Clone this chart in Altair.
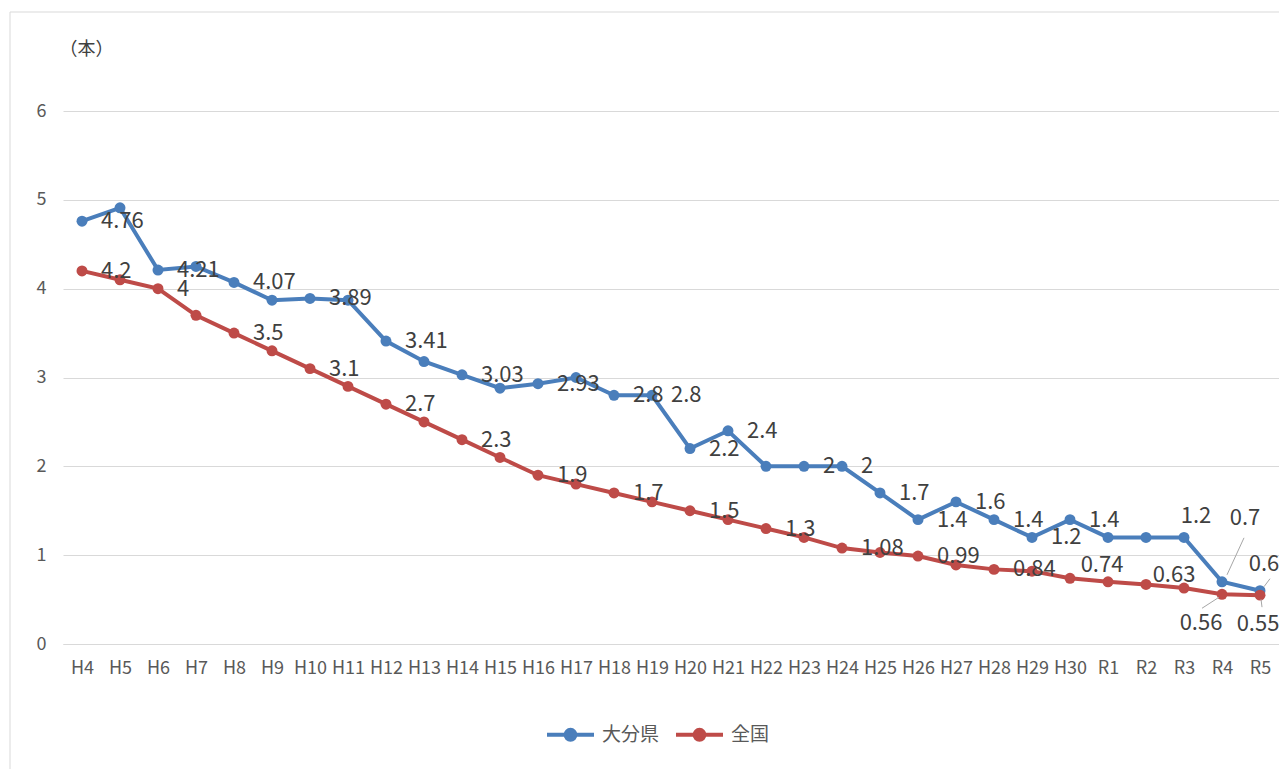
import altair as alt
import pandas as pd

categories = ["H4", "H5", "H6", "H7", "H8", "H9", "H10", "H11", "H12", "H13", "H14",
              "H15", "H16", "H17", "H18", "H19", "H20", "H21", "H22", "H23", "H24",
              "H25", "H26", "H27", "H28", "H29", "H30", "R1", "R2", "R3", "R4", "R5"]

series_names = ["大分県", "全国"]

oita = [4.76, 4.91, 4.21, 4.25, 4.07, 3.87, 3.89, 3.87, 3.41, 3.18, 3.03, 2.88, 2.93,
        3.0, 2.8, 2.8, 2.2, 2.4, 2.0, 2.0, 2.0, 1.7, 1.4, 1.6, 1.4, 1.2, 1.4,
        1.2, 1.2, 1.2, 0.7, 0.6]
zenkoku = [4.2, 4.1, 4.0, 3.7, 3.5, 3.3, 3.1, 2.9, 2.7, 2.5, 2.3, 2.1, 1.9, 1.8, 1.7,
           1.6, 1.5, 1.4, 1.3, 1.2, 1.08, 1.03, 0.99, 0.89, 0.84, 0.82, 0.74,
           0.70, 0.67, 0.63, 0.56, 0.55]

oita_labels = ["4.76", "", "4.21", "", "4.07", "", "3.89", "", "3.41", "", "3.03", "",
               "2.93", "", "2.8", "2.8", "2.2", "2.4", "", "2", "2", "1.7", "1.4", "1.6",
               "1.4", "1.2", "1.4", "", "", "1.2", "0.7", "0.6"]
zenkoku_labels = ["4.2", "", "4", "", "3.5", "", "3.1", "", "2.7", "", "2.3", "", "1.9",
                  "", "1.7", "", "1.5", "", "1.3", "", "1.08", "", "0.99", "", "0.84", "",
                  "0.74", "", "", "0.63", "0.56", "0.55"]

colors = ["#4a7ebb", "#be4b48"]
FONT = "Noto Sans CJK JP"

rows = []
for name, vals, labs in [(series_names[0], oita, oita_labels),
                         (series_names[1], zenkoku, zenkoku_labels)]:
    for i, (c, v, l) in enumerate(zip(categories, vals, labs)):
        rows.append({"cat": c, "series": name, "value": v, "label": l,
                     "key": f"{name}|{c}", "order": i})
df = pd.DataFrame(rows)

# label placement tweaks (style, kept outside the data arrays)
special = {
    "大分県|R3": dict(dx=12, dy=-21),
    "大分県|R4": dict(dx=23, dy=-64),
    "大分県|R5": dict(dx=4, dy=-27),
    "全国|H30": dict(dx=32, dy=-13),
    "全国|R3": dict(dx=-10, dy=-13),
    "全国|R4": dict(dx=-21, dy=29),
    "全国|R5": dict(dx=-2, dy=29),
}
leaders = {
    "大分県|R4": dict(xOffset=5, yOffset=-7, x2Offset=22, y2Offset=-44),
    "大分県|R5": dict(xOffset=4, yOffset=-4, x2Offset=10, y2Offset=-12),
    "全国|R4": dict(xOffset=-3, yOffset=3, x2Offset=-20, y2Offset=14),
    "全国|R5": dict(xOffset=1, yOffset=4, x2Offset=2, y2Offset=12),
}

x_enc = alt.X("cat:N", sort=categories,
              scale=alt.Scale(type="point", padding=0.5),
              axis=alt.Axis(title=None, labelAngle=0, grid=False, ticks=False,
                            domain=True, domainColor="#d9d9d9", domainWidth=1,
                            labelFont=FONT, labelFontSize=18, labelColor="#595959",
                            labelPadding=15))
y_enc = alt.Y("value:Q", scale=alt.Scale(domain=[0, 6], nice=False),
              axis=alt.Axis(title="（本）", titleAngle=0, titleAlign="left",
                            titleBaseline="middle", titleX=-4, titleY=-62,
                            titleFont=FONT, titleFontSize=18, titleFontWeight="normal",
                            titleColor="#404040",
                            values=[0, 1, 2, 3, 4, 5, 6], format="d",
                            grid=True, gridColor="#d9d9d9", gridWidth=1,
                            domain=False, ticks=False,
                            labelFont=FONT, labelFontSize=18, labelColor="#595959",
                            labelPadding=17))

legend = alt.Legend(
    title=None, orient="none", legendX=482, legendY=598, direction="horizontal",
    symbolType="M-1,0H1M-0.21,0A0.21,0.21 0 1 0 0.21,0A0.21,0.21 0 1 0 -0.21,0Z",
    symbolSize=2209, symbolStrokeWidth=4, symbolOpacity=1,
    labelFont=FONT, labelFontSize=19, labelColor="#595959",
    labelOffset=6, columnPadding=8, padding=0,
)
color_enc = alt.Color("series:N", scale=alt.Scale(domain=series_names, range=colors),
                      sort=series_names, legend=legend)

base = alt.Chart(df)

border = alt.Chart(alt.Data(values=[{}])).mark_rect(
    filled=False, stroke="#d9d9d9", strokeWidth=1
).encode(x=alt.value(-53), x2=alt.value(1300), y=alt.value(-99), y2=alt.value(800))

lines = base.mark_line(strokeWidth=4).encode(
    x=x_enc, y=y_enc, color=color_enc, order="order:Q")
points = base.mark_point(filled=True, size=120, opacity=1).encode(
    x=x_enc, y=y_enc, color=color_enc)

normal_df = df[(df["label"] != "") & (~df["key"].isin(list(special.keys())))]
labels_layer = alt.Chart(normal_df).mark_text(
    align="left", baseline="middle", dx=19, font=FONT, fontSize=22, color="#404040"
).encode(x=x_enc, y=y_enc, text="label:N")

layers = [border, lines, points, labels_layer]

for k, off in leaders.items():
    sub = df[df["key"] == k]
    layers.append(alt.Chart(sub).mark_rule(color="#a6a6a6", strokeWidth=1, **off).encode(
        x=x_enc, y=y_enc, x2=alt.X2("cat"), y2=alt.Y2("value")))

for k, off in special.items():
    sub = df[df["key"] == k]
    layers.append(alt.Chart(sub).mark_text(
        align="center", baseline="middle", font=FONT, fontSize=22, color="#404040", **off
    ).encode(x=x_enc, y=y_enc, text="label:N"))

chart = alt.layer(*layers).properties(
    width=1216, height=533,
    autosize=alt.AutoSizeParams(type="none"),
    padding={"left": 55, "top": 103, "right": 0, "bottom": 125},
    background="white",
).configure_view(stroke=None)

chart.save("out.html", embed_options={"renderer": "svg", "actions": False})
